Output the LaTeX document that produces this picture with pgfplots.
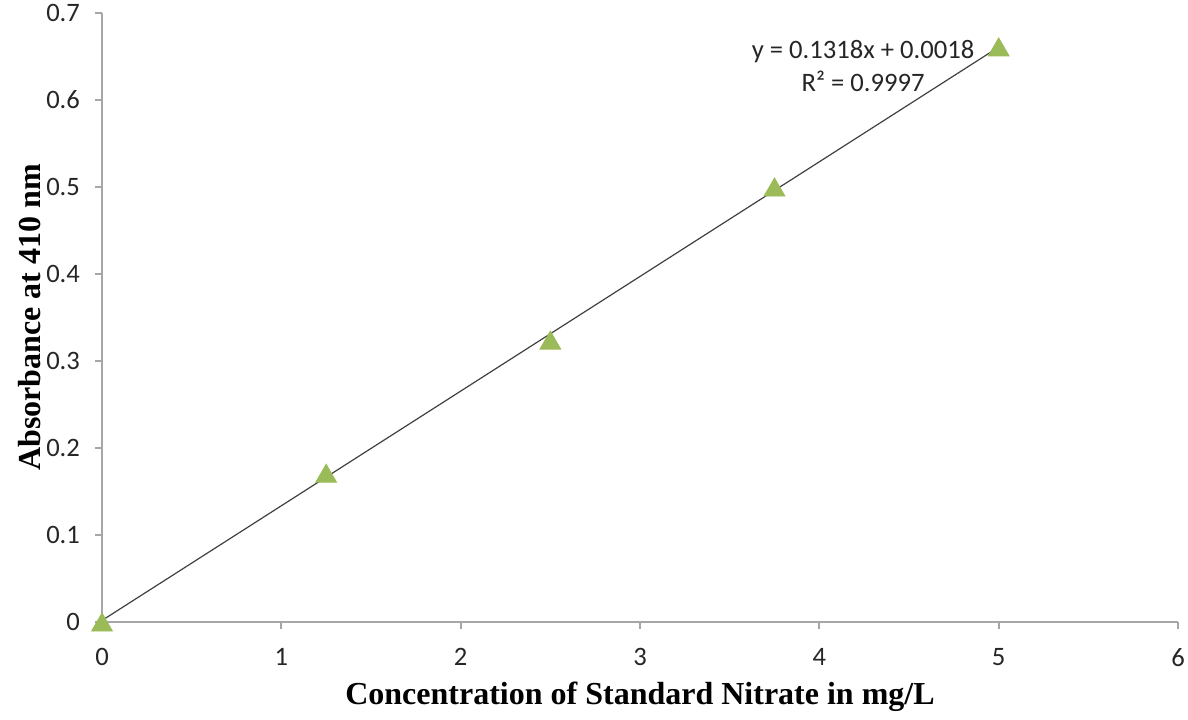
\documentclass[border=0pt]{standalone}
\usepackage{fontspec}
\setmainfont{Carlito}
\newfontfamily\labelfont{Liberation Serif}
\usepackage{pgfplots}
\pgfplotsset{compat=1.18}

\definecolor{markgreen}{HTML}{9BBB59}
\definecolor{axisgray}{HTML}{A6A6A6}
\definecolor{fitgray}{HTML}{404040}

\begin{document}
\begin{tikzpicture}
\begin{axis}[
  name=ax,
  scale only axis,
  width=538pt, height=304.5pt,
  xmin=0, xmax=6, ymin=0, ymax=0.7,
  clip=false,
  axis x line*=bottom, axis y line*=left,
  axis line style={axisgray, line width=0.9pt, -},
  tick align=outside,
  major tick length=3.5pt,
  tick style={axisgray, line width=0.9pt},
  xtick={0,1,2,3,4,5,6},
  ytick={0,0.1,0.2,0.3,0.4,0.5,0.6,0.7},
  /pgf/number format/assume math mode=true,
  yticklabel style={/pgf/number format/fixed, /pgf/number format/precision=1, xshift=-4pt},
  xticklabel style={yshift=-6pt},
  tick label style={font=\fontsize{13.3}{16}\selectfont, text=black!85},
  xlabel={\labelfont\bfseries Concentration of Standard Nitrate in mg/L},
  ylabel={\labelfont\bfseries Absorbance at 410 nm},
  xlabel style={at={(axis description cs:0.5,-0.1232)}, anchor=center, font=\fontsize{16}{19}\selectfont},
  ylabel style={at={(axis description cs:-0.0669,0.5)}, anchor=center, rotate=0, font=\fontsize{16}{19}\selectfont},
]
% standards (triangles centred on their bounding box)
\addplot[only marks, mark=triangle*, mark size=6pt, color=markgreen,
  every mark/.append style={yshift=-1.5pt}]
  coordinates {(0,0) (1.25,0.171) (2.5,0.324) (3.75,0.5) (5,0.661)};
% linear fit  y = 0.1318x + 0.0018
\addplot[fitgray, line width=0.6pt]
  coordinates {(0,0.0018) (5,0.6608)};
\node[align=center, font=\fontsize{13.3}{16.5}\selectfont, text=black!85]
  at (axis cs:4.244,0.6385) {y = 0.1318x + 0.0018\\R² = 0.9997};
\end{axis}
\pgfresetboundingbox
\path[use as bounding box] ([shift={(-51pt,-48.5pt)}]ax.south west) rectangle ([shift={(5pt,6.5pt)}]ax.north east);
\end{tikzpicture}
\end{document}
